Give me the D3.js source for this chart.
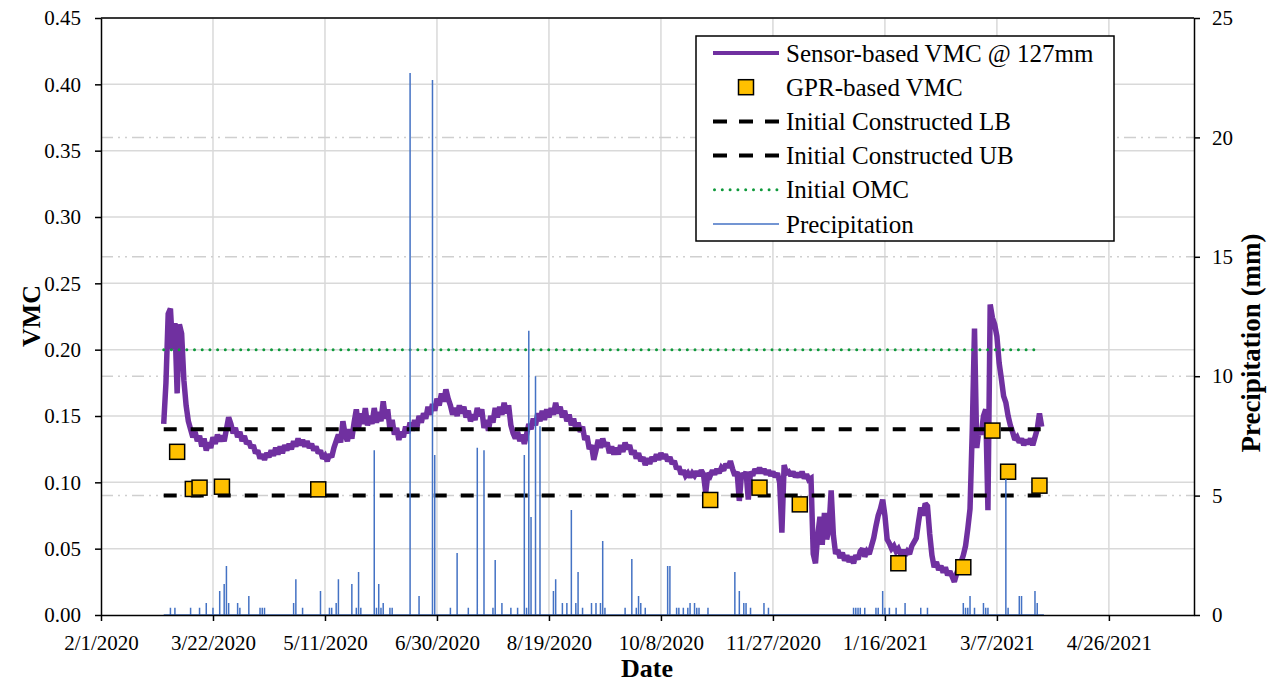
<!DOCTYPE html>
<html><head><meta charset="utf-8">
<script src="https://cdn.jsdelivr.net/npm/d3@7"></script>
<style>
body{margin:0;background:#fff}
svg{display:block}
svg text{font-family:"Liberation Serif","Times New Roman",serif !important;fill:#000}
</style>
</head><body><svg id="chart" width="1274" height="684"></svg>
<script>
// ---------- data ----------
const dateTicks = ["2/1/2020","3/22/2020","5/11/2020","6/30/2020","8/19/2020","10/8/2020","11/27/2020","1/16/2021","3/7/2021","4/26/2021"];
const xDomain = ["2/1/2020","6/3/2021"];
const vmcTicks = [0,0.05,0.10,0.15,0.20,0.25,0.30,0.35,0.40,0.45];
const precipTicks = [0,5,10,15,20,25];

// Sensor-based VMC @ 127mm: one value per day starting at sensorStart
const sensorStart = "2/29/2020";
const sensorVMC = [
0.144,0.175,0.227,0.231,0.200,0.220,0.167,0.219,0.212,0.177,0.158,0.146,
0.140,0.134,0.138,0.131,0.135,0.127,0.133,0.124,0.130,0.126,
0.134,0.129,0.136,0.131,0.135,0.131,0.140,0.149,0.144,0.137,
0.141,0.134,0.138,0.131,0.135,0.129,0.131,0.126,0.128,0.122,
0.124,0.118,0.121,0.117,0.122,0.119,0.124,0.120,0.126,0.121,
0.127,0.122,0.128,0.124,0.129,0.125,0.131,0.127,0.133,0.128,
0.132,0.127,0.131,0.126,0.129,0.124,0.127,0.122,0.124,0.118,
0.120,0.116,0.121,0.119,0.126,0.131,0.136,0.130,0.146,0.136,
0.131,0.140,0.133,0.145,0.155,0.141,0.152,0.144,0.156,0.143,
0.150,0.144,0.156,0.145,0.153,0.146,0.161,0.148,0.155,0.140,
0.147,0.136,0.141,0.132,0.138,0.134,0.142,0.137,0.145,0.139,
0.147,0.141,0.150,0.145,0.152,0.148,0.157,0.151,0.159,0.154,
0.163,0.158,0.167,0.161,0.170,0.163,0.158,0.151,0.156,0.150,
0.158,0.152,0.157,0.149,0.154,0.146,0.151,0.147,0.156,0.150,
0.155,0.141,0.147,0.139,0.150,0.145,0.156,0.149,0.157,0.151,
0.160,0.152,0.158,0.143,0.137,0.133,0.138,0.131,0.136,0.129,
0.136,0.144,0.140,0.148,0.143,0.152,0.146,0.154,0.147,0.155,
0.149,0.156,0.151,0.160,0.152,0.157,0.149,0.154,0.146,0.151,
0.143,0.148,0.140,0.145,0.138,0.142,0.132,0.135,0.125,0.128,
0.117,0.124,0.132,0.126,0.133,0.127,0.130,0.122,0.127,0.121,
0.126,0.121,0.128,0.123,0.130,0.125,0.128,0.121,0.124,0.118,
0.122,0.116,0.119,0.113,0.118,0.114,0.119,0.116,0.121,0.117,
0.122,0.118,0.121,0.116,0.119,0.114,0.116,0.110,0.112,0.106,
0.109,0.105,0.107,0.104,0.107,0.105,0.108,0.105,0.109,0.106,
0.092,0.107,0.105,0.109,0.106,0.110,0.107,0.111,0.109,0.114,
0.111,0.116,0.110,0.105,0.108,0.086,0.107,0.104,0.108,0.087,
0.108,0.105,0.110,0.107,0.111,0.107,0.110,0.106,0.109,0.105,
0.108,0.104,0.107,0.100,0.062,0.113,0.107,0.108,0.105,0.108,
0.104,0.107,0.104,0.108,0.103,0.106,0.102,0.103,0.046,0.039,
0.060,0.074,0.053,0.077,0.057,0.065,0.094,0.060,0.046,0.049,
0.043,0.047,0.041,0.045,0.040,0.044,0.039,0.045,0.042,0.048,
0.050,0.044,0.048,0.046,0.052,0.058,0.067,0.075,0.080,0.087,
0.075,0.057,0.054,0.050,0.052,0.048,0.050,0.046,0.049,0.045,
0.048,0.046,0.052,0.055,0.058,0.070,0.081,0.075,0.084,0.082,
0.061,0.045,0.036,0.040,0.034,0.037,0.032,0.036,0.030,0.033,
0.029,0.025,0.031,0.036,0.040,0.045,0.052,0.065,0.080,0.139,
0.216,0.126,0.140,0.136,0.150,0.155,0.079,0.234,0.224,0.219,
0.210,0.190,0.178,0.165,0.160,0.150,0.143,0.138,0.132,0.134,
0.130,0.133,0.128,0.132,0.129,0.133,0.128,0.134,0.140,0.152,0.142
];

// GPR-based VMC
const gprDates = ["3/6/2020","3/13/2020","3/16/2020","3/26/2020","5/8/2020","10/30/2020","11/21/2020","12/9/2020","1/22/2021","2/20/2021","3/5/2021","3/12/2021","3/26/2021"];
const gprVMC  = [0.123,0.095,0.096,0.0967,0.0947,0.0867,0.096,0.0834,0.039,0.036,0.139,0.108,0.0975];

// Reference lines (span of the monitoring period)
const refStart = "2/29/2020", refEnd = "3/27/2021";
const lbValue = 0.09, ubValue = 0.14, omcValue = 0.20;

// Precipitation (mm), non-zero days; zero elsewhere between precipStart and precipEnd
const precipStart = "2/29/2020", precipEnd = "3/28/2021";
const precipDates = ["3/3/2020","3/5/2020","3/12/2020","3/16/2020","3/19/2020","3/22/2020","3/25/2020","3/27/2020","3/28/2020","3/29/2020",
"4/2/2020","4/3/2020","4/7/2020","4/12/2020","4/13/2020","4/14/2020","4/27/2020","4/28/2020","5/1/2020","5/9/2020",
"5/13/2020","5/14/2020","5/16/2020","5/17/2020","5/23/2020","5/25/2020","5/26/2020","5/27/2020","6/2/2020","6/3/2020",
"6/4/2020","6/5/2020","6/6/2020","6/9/2020","6/10/2020","6/18/2020","6/22/2020","6/28/2020","6/29/2020","7/6/2020",
"7/9/2020","7/14/2020","7/18/2020","7/21/2020","7/25/2020","7/26/2020","7/29/2020","8/2/2020","8/5/2020","8/8/2020",
"8/9/2020","8/10/2020","8/11/2020","8/13/2020","8/15/2020","8/21/2020","8/22/2020","8/25/2020","8/27/2020","8/29/2020",
"8/31/2020","9/1/2020","9/3/2020","9/7/2020","9/9/2020","9/11/2020","9/12/2020","9/13/2020","9/22/2020","9/25/2020",
"9/27/2020","9/28/2020","9/29/2020","10/1/2020","10/11/2020","10/12/2020","10/15/2020","10/16/2020","10/18/2020","10/20/2020",
"10/21/2020","10/23/2020","10/24/2020","10/25/2020","10/29/2020","11/10/2020","11/12/2020","11/14/2020","11/15/2020","11/17/2020",
"11/23/2020","11/25/2020","1/2/2021","1/3/2021","1/4/2021","1/5/2021","1/7/2021","1/12/2021","1/13/2021","1/15/2021",
"1/16/2021","1/18/2021","1/21/2021","1/25/2021","2/1/2021","2/4/2021","2/20/2021","2/21/2021","2/22/2021","2/23/2021",
"2/25/2021","3/1/2021","3/2/2021","3/3/2021","3/11/2021","3/12/2021","3/17/2021","3/18/2021","3/24/2021","3/25/2021"];
const precipMM = [0.3,0.3,0.3,0.3,0.5,0.3,1.0,1.3,2.05,0.5,
0.5,0.3,0.8,0.3,0.3,0.3,0.5,1.5,0.3,1.0,
0.3,0.3,0.5,1.5,1.3,0.3,1.8,0.3,6.9,0.3,
1.3,0.3,0.5,0.3,0.3,22.7,0.8,22.4,6.7,0.3,
2.6,0.3,7.0,6.9,0.3,2.3,0.5,0.3,0.3,6.7,
0.3,11.9,4.1,10.0,7.9,1.0,1.5,0.5,0.5,4.4,
0.5,1.8,0.3,0.5,0.5,0.5,3.1,0.3,0.3,2.35,
0.3,0.8,0.5,0.3,2.05,2.05,0.3,0.3,0.3,0.3,
0.5,0.5,0.3,0.3,0.3,1.8,1.0,0.5,0.5,0.3,
0.5,0.3,0.3,0.3,0.3,0.3,0.3,0.3,0.3,1.0,
0.3,0.3,0.3,0.5,0.3,0.3,0.5,0.3,0.3,0.8,
0.3,0.5,0.3,0.3,5.7,0.3,0.8,0.8,1.0,0.5];

const legendLabels = ["Sensor-based VMC @ 127mm","GPR-based VMC","Initial Constructed LB","Initial Constructed UB","Initial OMC","Precipitation"];

// ---------- styles ----------
const C = {purple:"#7030a0", gold:"#ffc000", blue:"#4472c4", green:"#109a3c", grid:"#d9d9d9", gridDD:"#cfcfcf"};
const FONT = '"Liberation Serif","Times New Roman",serif';

// ---------- layout ----------
const svg = d3.select("#chart");
const L = 101, R = 1194, T = 18, B = 615;
const parse = d3.timeParse("%m/%d/%Y");
const x = d3.scaleTime().domain(xDomain.map(parse)).range([L, R]);
const y = d3.scaleLinear().domain([0, 0.45]).range([B, T]);
const yP = d3.scaleLinear().domain([0, 25]).range([B, T]);

// gridlines
const g = svg.append("g");
g.selectAll("line.vg").data(dateTicks.slice(1)).join("line")
  .attr("x1", d => x(parse(d))).attr("x2", d => x(parse(d)))
  .attr("y1", T).attr("y2", B).attr("stroke", C.grid).attr("stroke-width", 1.5);
g.selectAll("line.hg").data(vmcTicks.slice(1)).join("line")
  .attr("x1", L).attr("x2", R).attr("y1", d => y(d)).attr("y2", d => y(d))
  .attr("stroke", C.grid).attr("stroke-width", 1.5);
g.selectAll("line.pg").data(precipTicks.slice(1, -1)).join("line")
  .attr("x1", L).attr("x2", R).attr("y1", d => yP(d)).attr("y2", d => yP(d))
  .attr("stroke", C.gridDD).attr("stroke-width", 1.5).attr("stroke-dasharray", "12,5,2,5,2,5");

// sensor line
const s0 = parse(sensorStart);
const sensorData = sensorVMC.map((v, i) => [d3.timeDay.offset(s0, i), v]);
svg.append("path").datum(sensorData)
  .attr("d", d3.line().x(d => x(d[0])).y(d => y(d[1])))
  .attr("fill", "none").attr("stroke", C.purple).attr("stroke-width", 5.5).attr("stroke-linejoin", "miter").attr("stroke-miterlimit", 2);

// reference lines
const refX1 = x(parse(refStart)), refX2 = x(parse(refEnd));
[lbValue, ubValue].forEach(v => {
  svg.append("line").attr("x1", refX1).attr("x2", refX2).attr("y1", y(v)).attr("y2", y(v))
    .attr("stroke", "#000").attr("stroke-width", 4).attr("stroke-dasharray", "13,14");
});
svg.append("line").attr("x1", refX1).attr("x2", refX2 - 5).attr("y1", y(omcValue)).attr("y2", y(omcValue))
  .attr("stroke", C.green).attr("stroke-width", 3).attr("stroke-linecap", "round").attr("stroke-dasharray", "0,7.7");

// GPR squares
svg.selectAll("rect.gpr").data(gprDates.map((d, i) => [parse(d), gprVMC[i]])).join("rect")
  .attr("x", d => x(d[0]) - 7.5).attr("y", d => y(d[1]) - 7.5).attr("width", 15).attr("height", 15)
  .attr("fill", C.gold).attr("stroke", "#000").attr("stroke-width", 1.5);

// precipitation
const pts = [[parse(precipStart), 0]];
precipDates.forEach((d, i) => { const t = parse(d); pts.push([t, 0], [t, precipMM[i]], [t, 0]); });
pts.push([parse(precipEnd), 0]);
svg.append("path").datum(pts)
  .attr("d", d3.line().x(d => x(d[0])).y(d => yP(d[1])))
  .attr("fill", "none").attr("stroke", C.blue).attr("stroke-width", 1.5);

// axes
function styleAxis(sel, size) {
  sel.attr("font-family", FONT).attr("font-size", size);
  sel.selectAll("path.domain").attr("stroke", "#000").attr("stroke-width", 1.5);
  sel.selectAll(".tick line").attr("stroke", "#000").attr("stroke-width", 1.5);
  sel.selectAll(".tick text").style("font-family", FONT).style("font-size", size + "px").attr("fill", "#000");
}
const ax = svg.append("g").attr("transform", `translate(0,${B})`)
  .call(d3.axisBottom(x).tickValues(dateTicks.map(parse)).tickFormat(d3.timeFormat("%-m/%-d/%Y")).tickSize(6).tickSizeOuter(0).tickPadding(14));
styleAxis(ax, 21);
const ay = svg.append("g").attr("transform", `translate(${L},0)`)
  .call(d3.axisLeft(y).tickValues(vmcTicks).tickFormat(d3.format(".2f")).tickSize(6).tickSizeOuter(0).tickPadding(14));
styleAxis(ay, 21);
const ayr = svg.append("g").attr("transform", `translate(${R},0)`)
  .call(d3.axisRight(yP).tickValues(precipTicks).tickSize(6).tickSizeOuter(0).tickPadding(12));
styleAxis(ayr, 21);
svg.append("line").attr("x1", L).attr("x2", R).attr("y1", T).attr("y2", T).attr("stroke", "#000").attr("stroke-width", 1.5);

// axis titles
svg.append("text").attr("x", 647).attr("y", 677).attr("text-anchor", "middle")
  .attr("font-size", 26).attr("font-weight", "bold").text("Date");
svg.append("text").attr("transform", "translate(40,316) rotate(-90)").attr("text-anchor", "middle")
  .attr("font-size", 26).attr("font-weight", "bold").text("VMC");
svg.append("text").attr("transform", "translate(1260,343) rotate(-90)").attr("text-anchor", "middle")
  .attr("font-size", 27).attr("font-weight", "bold").text("Precipitation (mm)");

// legend
const lg = svg.append("g");
lg.append("rect").attr("x", 696).attr("y", 36).attr("width", 418).attr("height", 205)
  .attr("fill", "#fff").attr("stroke", "#000").attr("stroke-width", 1.5);
const rowY = i => 53 + i * 34.2;
const sx1 = 713, sx2 = 779;
lg.append("line").attr("x1", sx1).attr("x2", sx2).attr("y1", rowY(0)).attr("y2", rowY(0)).attr("stroke", C.purple).attr("stroke-width", 4);
lg.append("rect").attr("x", 738.5).attr("y", rowY(1) - 7.5).attr("width", 15).attr("height", 15).attr("fill", C.gold).attr("stroke", "#000").attr("stroke-width", 1.5);
[2, 3].forEach(i => lg.append("line").attr("x1", sx1).attr("x2", sx2).attr("y1", rowY(i)).attr("y2", rowY(i))
  .attr("stroke", "#000").attr("stroke-width", 4).attr("stroke-dasharray", "14,12"));
lg.append("line").attr("x1", sx1 + 1.5).attr("x2", sx2).attr("y1", rowY(4)).attr("y2", rowY(4))
  .attr("stroke", C.green).attr("stroke-width", 3).attr("stroke-linecap", "round").attr("stroke-dasharray", "0,7.8");
lg.append("line").attr("x1", sx1).attr("x2", sx2).attr("y1", rowY(5)).attr("y2", rowY(5)).attr("stroke", C.blue).attr("stroke-width", 1.5);
lg.selectAll("text.lt").data(legendLabels).join("text")
  .attr("x", 786).attr("y", (d, i) => rowY(i)).attr("dy", "0.34em").attr("font-size", 25).text(d => d);
</script>
</body></html>
